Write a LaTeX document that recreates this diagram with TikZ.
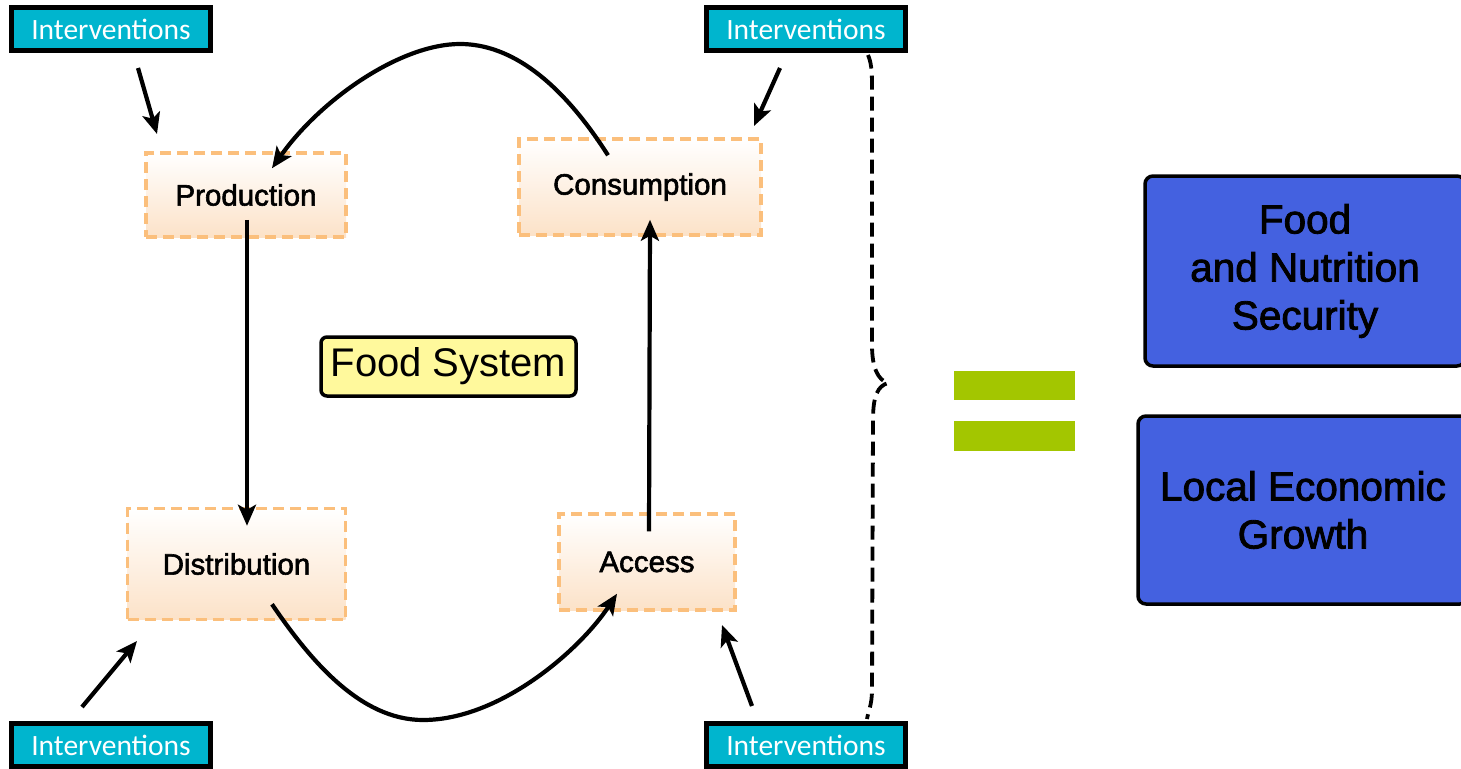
\documentclass[tikz,border=0pt]{standalone}
\usepackage{fontspec}
\setmainfont{Liberation Sans}
\newfontfamily\ivfont{Carlito}
\newfontfamily\heavyfont[FakeBold=2]{Liberation Sans}
\usetikzlibrary{arrows.meta}
\definecolor{ivcyan}{HTML}{00B5CE}
\definecolor{peach}{HTML}{FCE2C8}
\definecolor{orangeline}{HTML}{FBBF7C}
\definecolor{fsyellow}{HTML}{FFF99C}
\definecolor{outblue}{HTML}{4461E0}
\definecolor{eqgreen}{HTML}{A3C600}
\tikzset{
  ivbox/.style={draw=black, line width=5pt, fill=ivcyan, minimum width=199pt, minimum height=43pt, inner sep=0pt, text=white, font=\ivfont\fontsize{29.5}{34}\selectfont},
  stagebox/.style={draw=orangeline, line width=3.5pt, dash pattern=on 11pt off 6pt, top color=white, bottom color=peach, inner sep=0pt, font=\heavyfont\fontsize{29.5}{34}\selectfont},
  fsbox/.style={draw=black, line width=3.5pt, fill=fsyellow, rounded corners=6pt, minimum width=255pt, minimum height=59pt, inner sep=0pt, font=\fontsize{40}{46}\selectfont},
  outbox/.style={draw=black, line width=3.5pt, fill=outblue, rounded corners=8pt, inner sep=0pt, align=center, font=\heavyfont\fontsize{40.5}{48}\selectfont},
  flow/.style={line width=4.2pt, -{Stealth[length=21pt,width=18pt,inset=5pt]}},
  brace/.style={line width=3.8pt, dash pattern=on 14pt off 7pt, line cap=butt}
}
\begin{document}
\begin{tikzpicture}[x=1pt,y=-1pt]
\useasboundingbox (0,0) rectangle (1461,768);
\clip (0,0) rectangle (1461,768);
% intervention boxes
\node[ivbox] (iv1) at (111,29) {Interventions};
\node[ivbox] (iv2) at (806,29) {Interventions};
\node[ivbox] (iv3) at (111,745) {Interventions};
\node[ivbox] (iv4) at (806,745) {Interventions};
% stage boxes
\node[stagebox, minimum width=200pt, minimum height=84pt] (prod) at (246,195) {Production};
\node[stagebox, minimum width=242pt, minimum height=96pt] (cons) at (640,187) {Consumption};
\node[stagebox, minimum width=218pt, minimum height=111pt] (dist) at (236.5,564) {Distribution};
\node[stagebox, minimum width=176pt, minimum height=96pt] (acc) at (647,562) {Access};
% food system
\node[fsbox] (fs) at (448.5,366.5) {Food System};
% outcome boxes
\node[outbox, minimum width=320pt, minimum height=190pt] (fns) at (1305,271) {Food\\and Nutrition\\Security};
\node[outbox, minimum width=330pt, minimum height=188pt] (leg) at (1303,510) {Local Economic\\Growth};
% equals sign
\fill[eqgreen] (954,371) rectangle (1075,400);
\fill[eqgreen] (954,421) rectangle (1075,451);
% flows between stages
\draw[flow] ([xshift=1pt,yshift=19pt]prod.south) -- ([xshift=10.5pt,yshift=-19pt]dist.north);
\draw[flow] ([xshift=2pt,yshift=-19pt]acc.north) -- ([xshift=10pt,yshift=17pt]cons.south);
\coordinate (toppeak) at (460,44);
\coordinate (botlow) at (423,720);
\draw[flow] ([xshift=-32pt,yshift=-18pt]cons.north) .. controls (560,80) and (510,44) .. (toppeak)
  .. controls (400,44) and (320,100) .. ([xshift=26pt,yshift=-17pt]prod.north);
\draw[flow] ([xshift=35.5pt,yshift=17pt]dist.south) .. controls (310,660) and (360,720) .. (botlow)
  .. controls (500,720) and (580,650) .. ([xshift=-30pt,yshift=18pt]acc.south);
% intervention arrows
\coordinate (a1s) at (138,68);  \coordinate (a1e) at (157,134);
\coordinate (a2s) at (780,68);  \coordinate (a2e) at (754,126);
\coordinate (a3s) at (82,707);  \coordinate (a3e) at (137,641);
\coordinate (a4s) at (752,706); \coordinate (a4e) at (722,625);
\draw[flow] (a1s) -- (a1e);
\draw[flow] (a2s) -- (a2e);
\draw[flow] (a3s) -- (a3e);
\draw[flow] (a4s) -- (a4e);
% dashed brace
\coordinate (brtop) at (868,55);
\coordinate (brtip) at (888,383);
\coordinate (brbot) at (867,719);
\draw[brace] (brtop) .. controls (871,62) and (872,70) .. (872,85) -- (872,345)
  .. controls (872,368) and (878,380) .. (brtip)
  .. controls (878,386) and (873,395) .. (873,420) -- (872,690)
  .. controls (872,705) and (868,712) .. (brbot);
\end{tikzpicture}
\end{document}
